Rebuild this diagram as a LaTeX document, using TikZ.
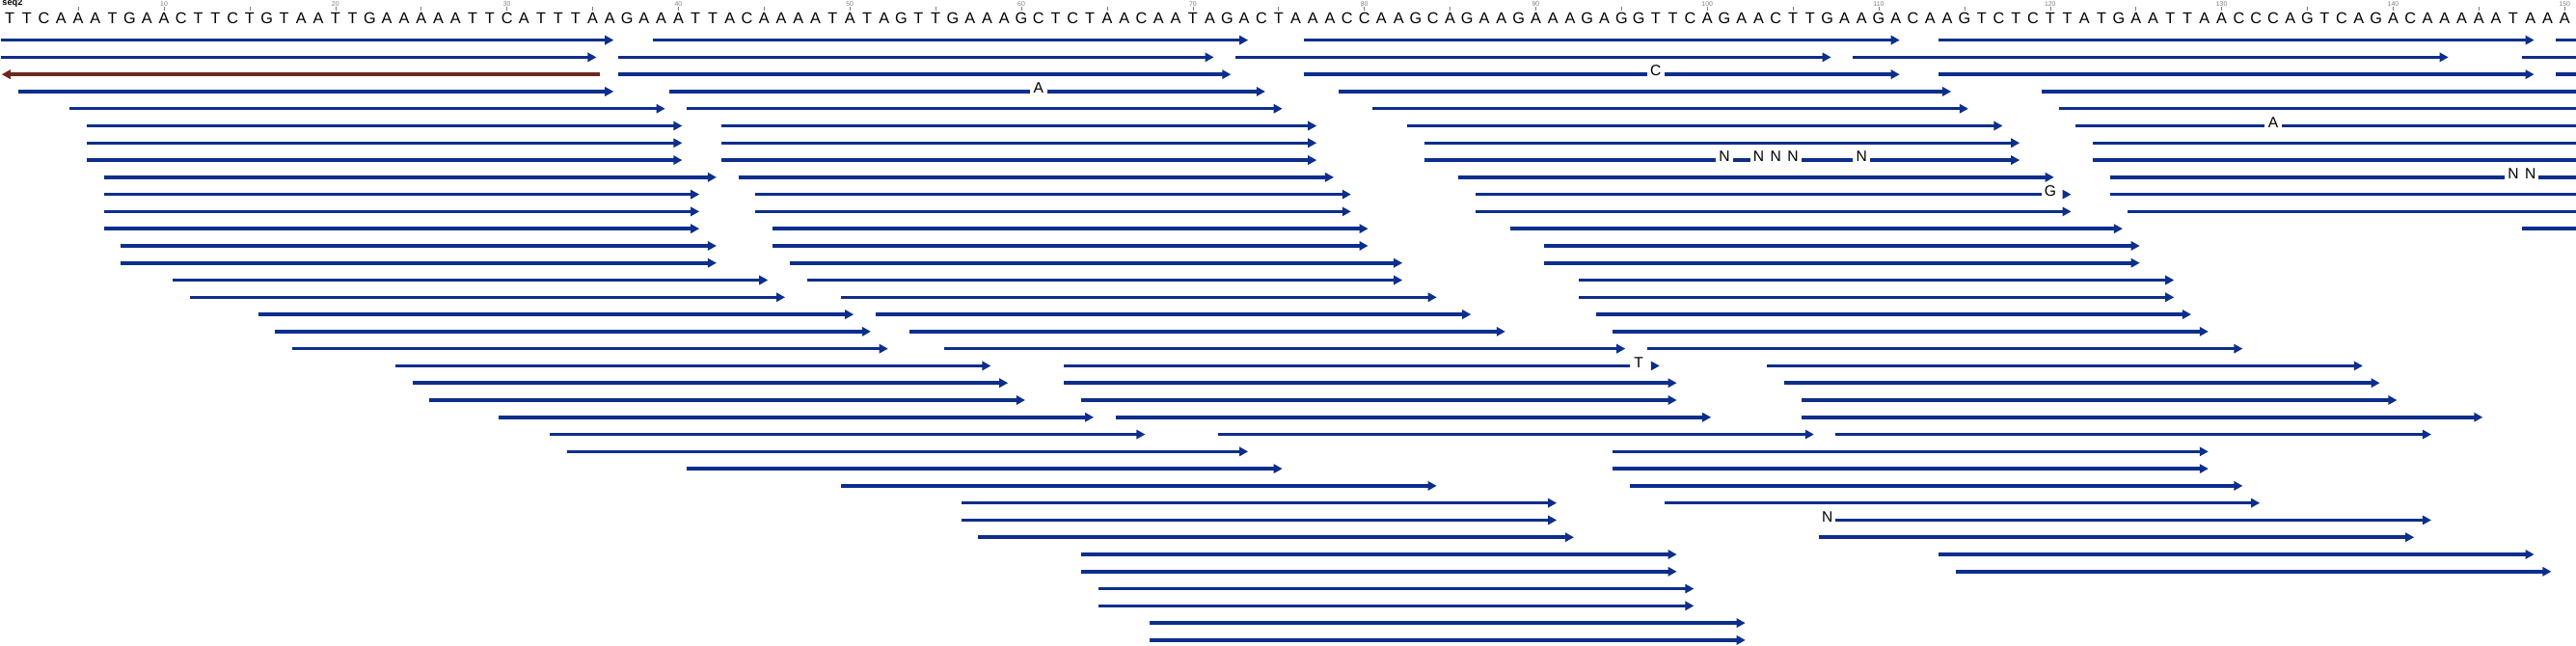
\documentclass[tikz,border=0pt]{standalone}
\usepackage{fontspec}
\setmainfont{Liberation Sans}
\definecolor{readblue}{RGB}{12,46,140}
\definecolor{readbrown}{RGB}{112,40,30}
\definecolor{rulergray}{RGB}{125,125,125}
\begin{document}
\begin{tikzpicture}[scale=0.3]
\tikzstyle{every node}+=[inner sep=0pt]
\tikzstyle{fwdread}=[readblue, line width=1.7pt]
\tikzstyle{revread}=[readbrown, line width=1.7pt]
\tikzstyle{seqbase}=[font=\fontsize{7.8}{8}\selectfont]
\tikzstyle{mism}=[font=\fontsize{7.5}{8}\selectfont]
\tikzstyle{rulernum}=[rulergray, font=\fontsize{3.3}{4}\selectfont]
\tikzstyle{rulertick}=[rulergray, line width=0.3pt]
\useasboundingbox (-0.056,0) rectangle (150.17,-37.68);
\draw (0.06,-0.17) node [anchor=west, font=\fontsize{4.4}{5}\selectfont\bfseries] (title) {seq2};
\foreach \b [count=\i] in {T,T,C,A,A,A,T,G,A,A, C,T,T,C,T,G,T,A,A,T, T,G,A,A,A,A,A,T,T,C,
  A,T,T,T,A,A,G,A,A,A, T,T,A,C,A,A,A,A,T,A, T,A,G,T,T,G,A,A,A,G, C,T,C,T,A,A,C,A,A,T,
  A,G,A,C,T,A,A,A,C,C, A,A,G,C,A,G,A,A,G,A, A,A,G,A,G,G,T,T,C,A, G,A,A,C,T,T,G,A,A,G,
  A,C,A,A,G,T,C,T,C,T, T,A,T,G,A,A,T,T,A,A, C,C,C,A,G,T,C,A,G,A, C,A,A,A,A,A,T,A,A,A}
  \draw (\i-0.494,-1.08) node [seqbase] (s\i) {\b};
\foreach \i in {5,10,...,150}
  \draw [rulertick] (\i-0.494,-0.42) -- (\i-0.494,-0.62);
\foreach \i in {10,20,...,150}
  \draw (\i-0.494,-0.26) node [rulernum] (n\i) {\i};
\draw [fwdread] (0,-2.34) -- (35.3,-2.34);
\fill [readblue] (35.72,-2.34) -- (35.22,-2.06) -- (35.22,-2.62);
\draw [fwdread] (38,-2.34) -- (72.3,-2.34);
\fill [readblue] (72.72,-2.34) -- (72.22,-2.06) -- (72.22,-2.62);
\draw [fwdread] (76,-2.34) -- (110.3,-2.34);
\fill [readblue] (110.72,-2.34) -- (110.22,-2.06) -- (110.22,-2.62);
\draw [fwdread] (113,-2.34) -- (147.3,-2.34);
\fill [readblue] (147.72,-2.34) -- (147.22,-2.06) -- (147.22,-2.62);
\draw [fwdread] (149,-2.34) -- (150.17,-2.34);
\draw [fwdread] (0,-3.34) -- (34.3,-3.34);
\fill [readblue] (34.72,-3.34) -- (34.22,-3.06) -- (34.22,-3.62);
\draw [fwdread] (36,-3.34) -- (70.3,-3.34);
\fill [readblue] (70.72,-3.34) -- (70.22,-3.06) -- (70.22,-3.62);
\draw [fwdread] (72,-3.34) -- (106.3,-3.34);
\fill [readblue] (106.72,-3.34) -- (106.22,-3.06) -- (106.22,-3.62);
\draw [fwdread] (108,-3.34) -- (142.3,-3.34);
\fill [readblue] (142.72,-3.34) -- (142.22,-3.06) -- (142.22,-3.62);
\draw [fwdread] (147,-3.34) -- (150.17,-3.34);
\draw [revread] (0.5,-4.34) -- (34.9,-4.34);
\fill [readbrown] (0.05,-4.34) -- (0.55,-4.06) -- (0.55,-4.62);
\draw [fwdread] (36,-4.34) -- (71.3,-4.34);
\fill [readblue] (71.72,-4.34) -- (71.22,-4.06) -- (71.22,-4.62);
\draw [fwdread] (76,-4.34) -- (96,-4.34);
\draw (96.506,-4.14) node [mism] (m1) {C};
\draw [fwdread] (97,-4.34) -- (110.3,-4.34);
\fill [readblue] (110.72,-4.34) -- (110.22,-4.06) -- (110.22,-4.62);
\draw [fwdread] (113,-4.34) -- (147.3,-4.34);
\fill [readblue] (147.72,-4.34) -- (147.22,-4.06) -- (147.22,-4.62);
\draw [fwdread] (149,-4.34) -- (150.17,-4.34);
\draw [fwdread] (1,-5.34) -- (35.3,-5.34);
\fill [readblue] (35.72,-5.34) -- (35.22,-5.06) -- (35.22,-5.62);
\draw [fwdread] (39,-5.34) -- (60,-5.34);
\draw (60.506,-5.14) node [mism] (m2) {A};
\draw [fwdread] (61,-5.34) -- (73.3,-5.34);
\fill [readblue] (73.72,-5.34) -- (73.22,-5.06) -- (73.22,-5.62);
\draw [fwdread] (78,-5.34) -- (113.3,-5.34);
\fill [readblue] (113.72,-5.34) -- (113.22,-5.06) -- (113.22,-5.62);
\draw [fwdread] (119,-5.34) -- (150.17,-5.34);
\draw [fwdread] (4,-6.34) -- (38.3,-6.34);
\fill [readblue] (38.72,-6.34) -- (38.22,-6.06) -- (38.22,-6.62);
\draw [fwdread] (40,-6.34) -- (74.3,-6.34);
\fill [readblue] (74.72,-6.34) -- (74.22,-6.06) -- (74.22,-6.62);
\draw [fwdread] (80,-6.34) -- (114.3,-6.34);
\fill [readblue] (114.72,-6.34) -- (114.22,-6.06) -- (114.22,-6.62);
\draw [fwdread] (120,-6.34) -- (150.17,-6.34);
\draw [fwdread] (5,-7.34) -- (39.3,-7.34);
\fill [readblue] (39.72,-7.34) -- (39.22,-7.06) -- (39.22,-7.62);
\draw [fwdread] (42,-7.34) -- (76.3,-7.34);
\fill [readblue] (76.72,-7.34) -- (76.22,-7.06) -- (76.22,-7.62);
\draw [fwdread] (82,-7.34) -- (116.3,-7.34);
\fill [readblue] (116.72,-7.34) -- (116.22,-7.06) -- (116.22,-7.62);
\draw [fwdread] (121,-7.34) -- (132,-7.34);
\draw (132.506,-7.14) node [mism] (m3) {A};
\draw [fwdread] (133,-7.34) -- (150.17,-7.34);
\draw [fwdread] (5,-8.34) -- (39.3,-8.34);
\fill [readblue] (39.72,-8.34) -- (39.22,-8.06) -- (39.22,-8.62);
\draw [fwdread] (42,-8.34) -- (76.3,-8.34);
\fill [readblue] (76.72,-8.34) -- (76.22,-8.06) -- (76.22,-8.62);
\draw [fwdread] (83,-8.34) -- (117.3,-8.34);
\fill [readblue] (117.72,-8.34) -- (117.22,-8.06) -- (117.22,-8.62);
\draw [fwdread] (122,-8.34) -- (150.17,-8.34);
\draw [fwdread] (5,-9.34) -- (39.3,-9.34);
\fill [readblue] (39.72,-9.34) -- (39.22,-9.06) -- (39.22,-9.62);
\draw [fwdread] (42,-9.34) -- (76.3,-9.34);
\fill [readblue] (76.72,-9.34) -- (76.22,-9.06) -- (76.22,-9.62);
\draw [fwdread] (83,-9.34) -- (100,-9.34);
\draw (100.506,-9.14) node [mism] (m4) {N};
\draw [fwdread] (101,-9.34) -- (102,-9.34);
\draw (102.506,-9.14) node [mism] (m5) {N};
\draw (103.506,-9.14) node [mism] (m6) {N};
\draw (104.506,-9.14) node [mism] (m7) {N};
\draw [fwdread] (105,-9.34) -- (108,-9.34);
\draw (108.506,-9.14) node [mism] (m8) {N};
\draw [fwdread] (109,-9.34) -- (117.3,-9.34);
\fill [readblue] (117.72,-9.34) -- (117.22,-9.06) -- (117.22,-9.62);
\draw [fwdread] (122,-9.34) -- (150.17,-9.34);
\draw [fwdread] (6,-10.34) -- (41.3,-10.34);
\fill [readblue] (41.72,-10.34) -- (41.22,-10.06) -- (41.22,-10.62);
\draw [fwdread] (43,-10.34) -- (77.3,-10.34);
\fill [readblue] (77.72,-10.34) -- (77.22,-10.06) -- (77.22,-10.62);
\draw [fwdread] (85,-10.34) -- (119.3,-10.34);
\fill [readblue] (119.72,-10.34) -- (119.22,-10.06) -- (119.22,-10.62);
\draw [fwdread] (123,-10.34) -- (146,-10.34);
\draw (146.506,-10.14) node [mism] (m9) {N};
\draw (147.506,-10.14) node [mism] (m10) {N};
\draw [fwdread] (148,-10.34) -- (150.17,-10.34);
\draw [fwdread] (6,-11.34) -- (40.3,-11.34);
\fill [readblue] (40.72,-11.34) -- (40.22,-11.06) -- (40.22,-11.62);
\draw [fwdread] (44,-11.34) -- (78.3,-11.34);
\fill [readblue] (78.72,-11.34) -- (78.22,-11.06) -- (78.22,-11.62);
\draw [fwdread] (86,-11.34) -- (119,-11.34);
\draw (119.506,-11.14) node [mism] (m11) {G};
\fill [readblue] (120.72,-11.34) -- (120.22,-11.06) -- (120.22,-11.62);
\draw [fwdread] (123,-11.34) -- (150.17,-11.34);
\draw [fwdread] (6,-12.34) -- (40.3,-12.34);
\fill [readblue] (40.72,-12.34) -- (40.22,-12.06) -- (40.22,-12.62);
\draw [fwdread] (44,-12.34) -- (78.3,-12.34);
\fill [readblue] (78.72,-12.34) -- (78.22,-12.06) -- (78.22,-12.62);
\draw [fwdread] (86,-12.34) -- (120.3,-12.34);
\fill [readblue] (120.72,-12.34) -- (120.22,-12.06) -- (120.22,-12.62);
\draw [fwdread] (124,-12.34) -- (150.17,-12.34);
\draw [fwdread] (6,-13.34) -- (40.3,-13.34);
\fill [readblue] (40.72,-13.34) -- (40.22,-13.06) -- (40.22,-13.62);
\draw [fwdread] (45,-13.34) -- (79.3,-13.34);
\fill [readblue] (79.72,-13.34) -- (79.22,-13.06) -- (79.22,-13.62);
\draw [fwdread] (88,-13.34) -- (123.3,-13.34);
\fill [readblue] (123.72,-13.34) -- (123.22,-13.06) -- (123.22,-13.62);
\draw [fwdread] (147,-13.34) -- (150.17,-13.34);
\draw [fwdread] (7,-14.34) -- (41.3,-14.34);
\fill [readblue] (41.72,-14.34) -- (41.22,-14.06) -- (41.22,-14.62);
\draw [fwdread] (45,-14.34) -- (79.3,-14.34);
\fill [readblue] (79.72,-14.34) -- (79.22,-14.06) -- (79.22,-14.62);
\draw [fwdread] (90,-14.34) -- (124.3,-14.34);
\fill [readblue] (124.72,-14.34) -- (124.22,-14.06) -- (124.22,-14.62);
\draw [fwdread] (7,-15.34) -- (41.3,-15.34);
\fill [readblue] (41.72,-15.34) -- (41.22,-15.06) -- (41.22,-15.62);
\draw [fwdread] (46,-15.34) -- (81.3,-15.34);
\fill [readblue] (81.72,-15.34) -- (81.22,-15.06) -- (81.22,-15.62);
\draw [fwdread] (90,-15.34) -- (124.3,-15.34);
\fill [readblue] (124.72,-15.34) -- (124.22,-15.06) -- (124.22,-15.62);
\draw [fwdread] (10,-16.34) -- (44.3,-16.34);
\fill [readblue] (44.72,-16.34) -- (44.22,-16.06) -- (44.22,-16.62);
\draw [fwdread] (47,-16.34) -- (81.3,-16.34);
\fill [readblue] (81.72,-16.34) -- (81.22,-16.06) -- (81.22,-16.62);
\draw [fwdread] (92,-16.34) -- (126.3,-16.34);
\fill [readblue] (126.72,-16.34) -- (126.22,-16.06) -- (126.22,-16.62);
\draw [fwdread] (11,-17.34) -- (45.3,-17.34);
\fill [readblue] (45.72,-17.34) -- (45.22,-17.06) -- (45.22,-17.62);
\draw [fwdread] (49,-17.34) -- (83.3,-17.34);
\fill [readblue] (83.72,-17.34) -- (83.22,-17.06) -- (83.22,-17.62);
\draw [fwdread] (92,-17.34) -- (126.3,-17.34);
\fill [readblue] (126.72,-17.34) -- (126.22,-17.06) -- (126.22,-17.62);
\draw [fwdread] (15,-18.34) -- (49.3,-18.34);
\fill [readblue] (49.72,-18.34) -- (49.22,-18.06) -- (49.22,-18.62);
\draw [fwdread] (51,-18.34) -- (85.3,-18.34);
\fill [readblue] (85.72,-18.34) -- (85.22,-18.06) -- (85.22,-18.62);
\draw [fwdread] (93,-18.34) -- (127.3,-18.34);
\fill [readblue] (127.72,-18.34) -- (127.22,-18.06) -- (127.22,-18.62);
\draw [fwdread] (16,-19.34) -- (50.3,-19.34);
\fill [readblue] (50.72,-19.34) -- (50.22,-19.06) -- (50.22,-19.62);
\draw [fwdread] (53,-19.34) -- (87.3,-19.34);
\fill [readblue] (87.72,-19.34) -- (87.22,-19.06) -- (87.22,-19.62);
\draw [fwdread] (94,-19.34) -- (128.3,-19.34);
\fill [readblue] (128.72,-19.34) -- (128.22,-19.06) -- (128.22,-19.62);
\draw [fwdread] (17,-20.34) -- (51.3,-20.34);
\fill [readblue] (51.72,-20.34) -- (51.22,-20.06) -- (51.22,-20.62);
\draw [fwdread] (55,-20.34) -- (94.3,-20.34);
\fill [readblue] (94.72,-20.34) -- (94.22,-20.06) -- (94.22,-20.62);
\draw [fwdread] (96,-20.34) -- (130.3,-20.34);
\fill [readblue] (130.72,-20.34) -- (130.22,-20.06) -- (130.22,-20.62);
\draw [fwdread] (23,-21.34) -- (57.3,-21.34);
\fill [readblue] (57.72,-21.34) -- (57.22,-21.06) -- (57.22,-21.62);
\draw [fwdread] (62,-21.34) -- (95,-21.34);
\draw (95.506,-21.14) node [mism] (m12) {T};
\fill [readblue] (96.72,-21.34) -- (96.22,-21.06) -- (96.22,-21.62);
\draw [fwdread] (103,-21.34) -- (137.3,-21.34);
\fill [readblue] (137.72,-21.34) -- (137.22,-21.06) -- (137.22,-21.62);
\draw [fwdread] (24,-22.34) -- (58.3,-22.34);
\fill [readblue] (58.72,-22.34) -- (58.22,-22.06) -- (58.22,-22.62);
\draw [fwdread] (62,-22.34) -- (97.3,-22.34);
\fill [readblue] (97.72,-22.34) -- (97.22,-22.06) -- (97.22,-22.62);
\draw [fwdread] (104,-22.34) -- (138.3,-22.34);
\fill [readblue] (138.72,-22.34) -- (138.22,-22.06) -- (138.22,-22.62);
\draw [fwdread] (25,-23.34) -- (59.3,-23.34);
\fill [readblue] (59.72,-23.34) -- (59.22,-23.06) -- (59.22,-23.62);
\draw [fwdread] (63,-23.34) -- (97.3,-23.34);
\fill [readblue] (97.72,-23.34) -- (97.22,-23.06) -- (97.22,-23.62);
\draw [fwdread] (105,-23.34) -- (139.3,-23.34);
\fill [readblue] (139.72,-23.34) -- (139.22,-23.06) -- (139.22,-23.62);
\draw [fwdread] (29,-24.34) -- (63.3,-24.34);
\fill [readblue] (63.72,-24.34) -- (63.22,-24.06) -- (63.22,-24.62);
\draw [fwdread] (65,-24.34) -- (99.3,-24.34);
\fill [readblue] (99.72,-24.34) -- (99.22,-24.06) -- (99.22,-24.62);
\draw [fwdread] (105,-24.34) -- (144.3,-24.34);
\fill [readblue] (144.72,-24.34) -- (144.22,-24.06) -- (144.22,-24.62);
\draw [fwdread] (32,-25.34) -- (66.3,-25.34);
\fill [readblue] (66.72,-25.34) -- (66.22,-25.06) -- (66.22,-25.62);
\draw [fwdread] (71,-25.34) -- (105.3,-25.34);
\fill [readblue] (105.72,-25.34) -- (105.22,-25.06) -- (105.22,-25.62);
\draw [fwdread] (107,-25.34) -- (141.3,-25.34);
\fill [readblue] (141.72,-25.34) -- (141.22,-25.06) -- (141.22,-25.62);
\draw [fwdread] (33,-26.34) -- (72.3,-26.34);
\fill [readblue] (72.72,-26.34) -- (72.22,-26.06) -- (72.22,-26.62);
\draw [fwdread] (94,-26.34) -- (128.3,-26.34);
\fill [readblue] (128.72,-26.34) -- (128.22,-26.06) -- (128.22,-26.62);
\draw [fwdread] (40,-27.34) -- (74.3,-27.34);
\fill [readblue] (74.72,-27.34) -- (74.22,-27.06) -- (74.22,-27.62);
\draw [fwdread] (94,-27.34) -- (128.3,-27.34);
\fill [readblue] (128.72,-27.34) -- (128.22,-27.06) -- (128.22,-27.62);
\draw [fwdread] (49,-28.34) -- (83.3,-28.34);
\fill [readblue] (83.72,-28.34) -- (83.22,-28.06) -- (83.22,-28.62);
\draw [fwdread] (95,-28.34) -- (130.3,-28.34);
\fill [readblue] (130.72,-28.34) -- (130.22,-28.06) -- (130.22,-28.62);
\draw [fwdread] (56,-29.34) -- (90.3,-29.34);
\fill [readblue] (90.72,-29.34) -- (90.22,-29.06) -- (90.22,-29.62);
\draw [fwdread] (97,-29.34) -- (131.3,-29.34);
\fill [readblue] (131.72,-29.34) -- (131.22,-29.06) -- (131.22,-29.62);
\draw [fwdread] (56,-30.34) -- (90.3,-30.34);
\fill [readblue] (90.72,-30.34) -- (90.22,-30.06) -- (90.22,-30.62);
\draw (106.506,-30.14) node [mism] (m13) {N};
\draw [fwdread] (107,-30.34) -- (141.3,-30.34);
\fill [readblue] (141.72,-30.34) -- (141.22,-30.06) -- (141.22,-30.62);
\draw [fwdread] (57,-31.34) -- (91.3,-31.34);
\fill [readblue] (91.72,-31.34) -- (91.22,-31.06) -- (91.22,-31.62);
\draw [fwdread] (106,-31.34) -- (140.3,-31.34);
\fill [readblue] (140.72,-31.34) -- (140.22,-31.06) -- (140.22,-31.62);
\draw [fwdread] (63,-32.34) -- (97.3,-32.34);
\fill [readblue] (97.72,-32.34) -- (97.22,-32.06) -- (97.22,-32.62);
\draw [fwdread] (113,-32.34) -- (147.3,-32.34);
\fill [readblue] (147.72,-32.34) -- (147.22,-32.06) -- (147.22,-32.62);
\draw [fwdread] (63,-33.34) -- (97.3,-33.34);
\fill [readblue] (97.72,-33.34) -- (97.22,-33.06) -- (97.22,-33.62);
\draw [fwdread] (114,-33.34) -- (148.3,-33.34);
\fill [readblue] (148.72,-33.34) -- (148.22,-33.06) -- (148.22,-33.62);
\draw [fwdread] (64,-34.34) -- (98.3,-34.34);
\fill [readblue] (98.72,-34.34) -- (98.22,-34.06) -- (98.22,-34.62);
\draw [fwdread] (64,-35.34) -- (98.3,-35.34);
\fill [readblue] (98.72,-35.34) -- (98.22,-35.06) -- (98.22,-35.62);
\draw [fwdread] (67,-36.34) -- (101.3,-36.34);
\fill [readblue] (101.72,-36.34) -- (101.22,-36.06) -- (101.22,-36.62);
\draw [fwdread] (67,-37.34) -- (101.3,-37.34);
\fill [readblue] (101.72,-37.34) -- (101.22,-37.06) -- (101.22,-37.62);
\end{tikzpicture}
\end{document}
